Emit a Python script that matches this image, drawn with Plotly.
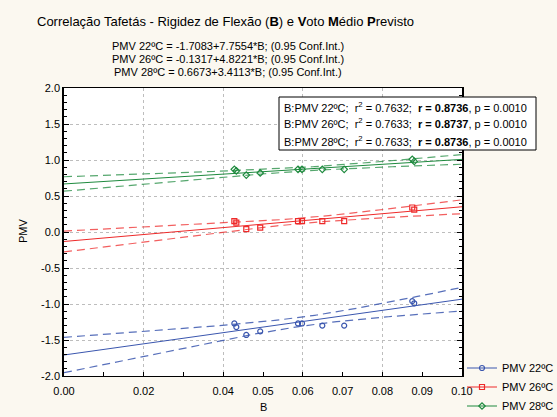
import numpy as np
import plotly.graph_objects as go

# Flexural rigidity B of the taffeta samples
B = [0.0428, 0.0433, 0.0458, 0.0493, 0.0588, 0.0598, 0.0649, 0.0704, 0.0875, 0.0880]

# Predicted mean vote for each ambient temperature
pmv22 = [-1.27, -1.32, -1.43, -1.38, -1.27, -1.27, -1.30, -1.30, -0.96, -0.99]
pmv26 = [0.15, 0.13, 0.04, 0.06, 0.15, 0.15, 0.15, 0.15, 0.34, 0.31]
pmv28 = [0.87, 0.85, 0.79, 0.82, 0.87, 0.87, 0.87, 0.87, 1.01, 0.98]

series_names = ["PMV 22ºC", "PMV 26ºC", "PMV 28ºC"]
series_values = [pmv22, pmv26, pmv28]

# Fitted regression coefficients and correlation statistics
intercepts = [-1.7083, -0.1317, 0.6673]
slopes = [7.7554, 4.8221, 3.4113]
r2_values = [0.7632, 0.7633, 0.7633]
r_values = [0.8736, 0.8737, 0.8736]
p_values = [0.0010, 0.0010, 0.0010]

x_tickvals = [0.00, 0.01, 0.02, 0.03, 0.04, 0.05, 0.06, 0.07, 0.08, 0.09, 0.10]
x_ticktext = ["0.00", "", "0.02", "", "0.04", "0.05", "0.06", "0.07", "0.08", "0.09", "0.10"]
x_gridvals = [0.02, 0.04, 0.06, 0.08]
y_tickvals = [-2.0, -1.5, -1.0, -0.5, 0.0, 0.5, 1.0, 1.5, 2.0]

colors = ["#3A56AE", "#EE2A2A", "#1E8A3E"]
band_colors = ["rgba(58,86,174,0.85)", "rgba(238,42,42,0.75)", "rgba(30,138,62,0.75)"]
symbols = ["circle-open", "square-open", "diamond-open"]

FONT = "Arial, Liberation Sans, sans-serif"
T_CRIT = 2.306  # Student t, 0.975 quantile, 8 degrees of freedom

x = np.asarray(B)
n = len(x)
xbar = x.mean()
sxx = ((x - xbar) ** 2).sum()
xs = np.linspace(0.0, 0.10, 201)

fig = go.Figure()

for name, vals, a, b, col, bcol, sym in zip(series_names, series_values, intercepts,
                                            slopes, colors, band_colors, symbols):
    y = np.asarray(vals)
    resid = y - (a + b * x)
    s = np.sqrt((resid ** 2).sum() / (n - 2))
    fit = a + b * xs
    half = T_CRIT * s * np.sqrt(1.0 / n + (xs - xbar) ** 2 / sxx)

    for band in (fit + half, fit - half):
        fig.add_trace(go.Scatter(x=xs, y=band, mode="lines", showlegend=False,
                                 hoverinfo="skip",
                                 line=dict(color=bcol, width=1.2, dash="8px,5px")))
    fig.add_trace(go.Scatter(x=xs, y=fit, mode="lines", showlegend=False,
                             line=dict(color=col, width=1)))
    fig.add_trace(go.Scatter(x=B, y=vals, mode="markers", showlegend=False, name=name,
                             marker=dict(symbol=sym, size=5, color=col,
                                         line=dict(width=1.2, color=col))))
    # legend entry: line with marker
    fig.add_trace(go.Scatter(x=[None], y=[None], mode="lines+markers", name=name,
                             line=dict(color=col, width=1),
                             marker=dict(symbol=sym, size=5, color=col,
                                         line=dict(width=1.2, color=col))))

# plot area spans px 64..462 horizontally and 88..376 vertically
L, R, TOP, BOT = 64, 462, 88, 376
W, H = R - L, BOT - TOP


def px(xp):
    return (xp - L) / W


def py(yp):
    return (BOT - yp) / H


annotations = []
annotations.append(dict(
    text="Correlação Tafetás - Rigidez de Flexão (<b>B</b>) e <b>V</b>oto <b>M</b>édio <b>P</b>revisto",
    x=px(35), y=py(21), xref="paper", yref="paper", xanchor="left", yanchor="middle",
    showarrow=False, font=dict(size=13, family=FONT, color="black")))

for i, (name, a, b) in enumerate(zip(series_names, intercepts, slopes)):
    annotations.append(dict(
        text=f"{name} = {a:.4f}+{b:.4f}*B; (0.95 Conf.Int.)",
        x=px(228), y=py(46 + 13 * i), xref="paper", yref="paper",
        xanchor="center", yanchor="middle", showarrow=False,
        font=dict(size=11, family=FONT, color="black")))

# statistics box
BOX_L, BOX_R, BOX_T, BOX_B = 279, 536, 97, 150
shapes = [dict(type="rect", xref="paper", yref="paper", layer="above",
               x0=px(BOX_L), x1=px(BOX_R), y0=py(BOX_B), y1=py(BOX_T),
               fillcolor="white", line=dict(color="black", width=1))]
for i, (name, r2, r, p) in enumerate(zip(series_names, r2_values, r_values, p_values)):
    label = name.replace("PMV ", "B:PMV ")
    annotations.append(dict(
        text=f"{label};  r<sup>2</sup> = {r2:.4f};  <b>r = {r:.4f}</b>, p = {p:.4f}",
        x=px(BOX_L + 3), y=py(106.5 + 17 * i), xref="paper", yref="paper",
        xanchor="left", yanchor="middle", align="left", showarrow=False,
        font=dict(size=11, family=FONT, color="black")))

annotations.append(dict(text="PMV", x=px(23), y=py(231), xref="paper", yref="paper",
                        textangle=-90, showarrow=False, xanchor="center", yanchor="middle",
                        font=dict(size=11, family=FONT, color="black")))
annotations.append(dict(text="B", x=px(263), y=py(407), xref="paper", yref="paper",
                        showarrow=False, xanchor="center", yanchor="middle",
                        font=dict(size=11, family=FONT, color="black")))

fig.update_layout(
    width=557, height=417,
    margin=dict(l=L, r=557 - R, t=TOP, b=417 - BOT, autoexpand=False),
    paper_bgcolor="#FBF8F0", plot_bgcolor="white",
    font=dict(family=FONT, size=11, color="black"),
    annotations=annotations,
    shapes=shapes,
    legend=dict(x=px(462), y=py(387), xanchor="left", yanchor="middle",
                bgcolor="rgba(0,0,0,0)", itemwidth=30, tracegroupgap=0,
                font=dict(size=11, family=FONT, color="black")),
    xaxis=dict(range=[0, 0.10], tickmode="array", tickvals=x_tickvals, ticktext=x_ticktext,
               ticks="inside", ticklen=4, tickcolor="black", showgrid=False,
               showline=True, linecolor="black", linewidth=1, mirror=True,
               zeroline=False, ticklabelstandoff=5,
               minor=dict(tickmode="array", tickvals=x_gridvals, showgrid=True,
                          gridcolor="#BDBDBD", griddash="dot", gridwidth=1, ticks="")),
    yaxis=dict(range=[-2, 2], tickmode="array", tickvals=y_tickvals,
               ticktext=[f"{v:.1f}" for v in y_tickvals],
               ticks="inside", ticklen=5, tickcolor="black",
               showgrid=True, gridcolor="#BDBDBD", griddash="dot", gridwidth=1,
               showline=True, linecolor="black", linewidth=1.5, mirror="ticks",
               zeroline=False,
               minor=dict(dtick=0.1, ticks="inside", ticklen=3, tickcolor="black",
                          showgrid=False)),
)

fig.write_html("out.html")
